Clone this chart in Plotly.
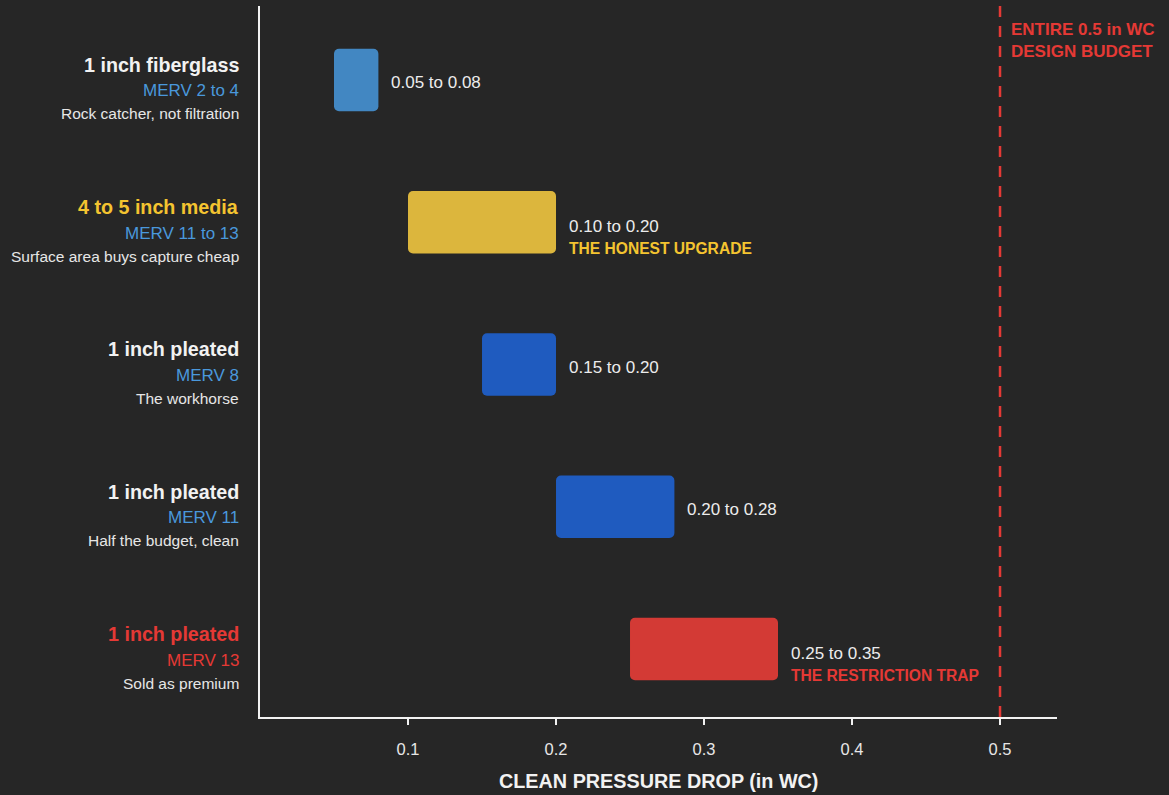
import plotly.graph_objects as go

# ---- data ----
titles = ["1 inch fiberglass", "4 to 5 inch media", "1 inch pleated", "1 inch pleated", "1 inch pleated"]
merv = ["MERV 2 to 4", "MERV 11 to 13", "MERV 8", "MERV 11", "MERV 13"]
descs = ["Rock catcher, not filtration", "Surface area buys capture cheap", "The workhorse",
         "Half the budget, clean", "Sold as premium"]
low = [0.05, 0.10, 0.15, 0.20, 0.25]
high = [0.08, 0.20, 0.20, 0.28, 0.35]
notes = ["", "THE HONEST UPGRADE", "", "", "THE RESTRICTION TRAP"]
budget = 0.5
tick_vals = [0.1, 0.2, 0.3, 0.4, 0.5]
tick_text = ["0.1", "0.2", "0.3", "0.4", "0.5"]

# ---- styles ----
BG = "#262626"
bar_colors = ["#4287c2", "#dcb63d", "#1f5bbf", "#1f5bbf", "#d33a35"]
title_colors = ["#f2f2f2", "#f4c430", "#f2f2f2", "#f2f2f2", "#e53935"]
merv_colors = ["#4a98dc", "#4a98dc", "#4a98dc", "#4a98dc", "#e53935"]
note_colors = ["", "#f4c430", "", "", "#e53935"]
FONT = "Liberation Sans, Arial, sans-serif"

rows = list(range(len(titles)))

fig = go.Figure()
fig.add_trace(go.Bar(
    y=rows,
    x=[h - l for h, l in zip(high, low)],
    base=low,
    orientation="h",
    marker=dict(color=bar_colors, line=dict(width=0)),
    width=0.44,
    hoverinfo="skip",
    showlegend=False,
))

ann = []
for i in rows:
    # left labels
    ann.append(dict(xref="paper", yref="y", x=0, y=i, xanchor="right", yanchor="middle",
                    xshift=-19, yshift=15, showarrow=False,
                    text="<b>%s</b>" % titles[i], font=dict(size=19.7, color=title_colors[i], family=FONT)))
    ann.append(dict(xref="paper", yref="y", x=0, y=i, xanchor="right", yanchor="middle",
                    xshift=-19, yshift=-11, showarrow=False,
                    text=merv[i], font=dict(size=17, color=merv_colors[i], family=FONT)))
    ann.append(dict(xref="paper", yref="y", x=0, y=i, xanchor="right", yanchor="middle",
                    xshift=-19, yshift=-34, showarrow=False,
                    text=descs[i], font=dict(size=15.5, color="#e6e6e6", family=FONT)))
    # value labels
    vt = "%.2f to %.2f" % (low[i], high[i])
    if notes[i]:
        ann.append(dict(xref="x", yref="y", x=high[i], y=i, xanchor="left", yanchor="middle",
                        xshift=11, yshift=-4, showarrow=False,
                        text=vt, font=dict(size=17, color="#ececec", family=FONT)))
        ann.append(dict(xref="x", yref="y", x=high[i], y=i, xanchor="left", yanchor="middle",
                        xshift=11, yshift=-26, showarrow=False,
                        text="<b>%s</b>" % notes[i], font=dict(size=15.6, color=note_colors[i], family=FONT)))
    else:
        ann.append(dict(xref="x", yref="y", x=high[i], y=i, xanchor="left", yanchor="middle",
                        xshift=11, yshift=-3, showarrow=False,
                        text=vt, font=dict(size=17, color="#ececec", family=FONT)))

# budget label
ann.append(dict(xref="x", yref="paper", x=budget, y=1, xanchor="left", yanchor="top",
                xshift=9, yshift=-12, showarrow=False, align="left",
                text="<b>ENTIRE 0.5 in WC<br>DESIGN BUDGET</b>",
                font=dict(size=17, color="#e53935", family=FONT)))
# axis title
ann.append(dict(xref="paper", yref="paper", x=0.5, y=(717 - 781) / 711, xanchor="center", yanchor="middle",
                showarrow=False, text="<b>CLEAN PRESSURE DROP (in WC)</b>",
                font=dict(size=19.8, color="#f2f2f2", family=FONT)))

fig.add_shape(type="line", xref="x", yref="paper", x0=budget, x1=budget, y0=0, y1=1,
              line=dict(color="#e53935", width=2.5, dash="11px,9px"), layer="above")

fig.update_layout(
    width=1169, height=795,
    paper_bgcolor=BG, plot_bgcolor=BG,
    margin=dict(l=260, r=112, t=6, b=78),
    barcornerradius=5,
    font=dict(family=FONT, color="#e6e6e6"),
    annotations=ann,
    xaxis=dict(range=[0, 0.5385], tickvals=tick_vals, ticktext=tick_text,
               showgrid=False, zeroline=False, showline=True, linecolor="#f2f2f2", linewidth=2,
               ticks="outside", ticklen=6, tickwidth=2, tickcolor="#f2f2f2",
               tickfont=dict(size=16.5, color="#e6e6e6", family=FONT), ticklabelstandoff=10,
               fixedrange=True),
    yaxis=dict(range=[4.478, -0.520], showgrid=False, zeroline=False, showticklabels=False,
               showline=True, linecolor="#f2f2f2", linewidth=2, ticks="", fixedrange=True),
    showlegend=False,
)

fig.write_html("out.html",
               config={"displayModeBar": False},
               post_script="document.body.style.margin='0';document.body.style.background='%s';" % BG)
